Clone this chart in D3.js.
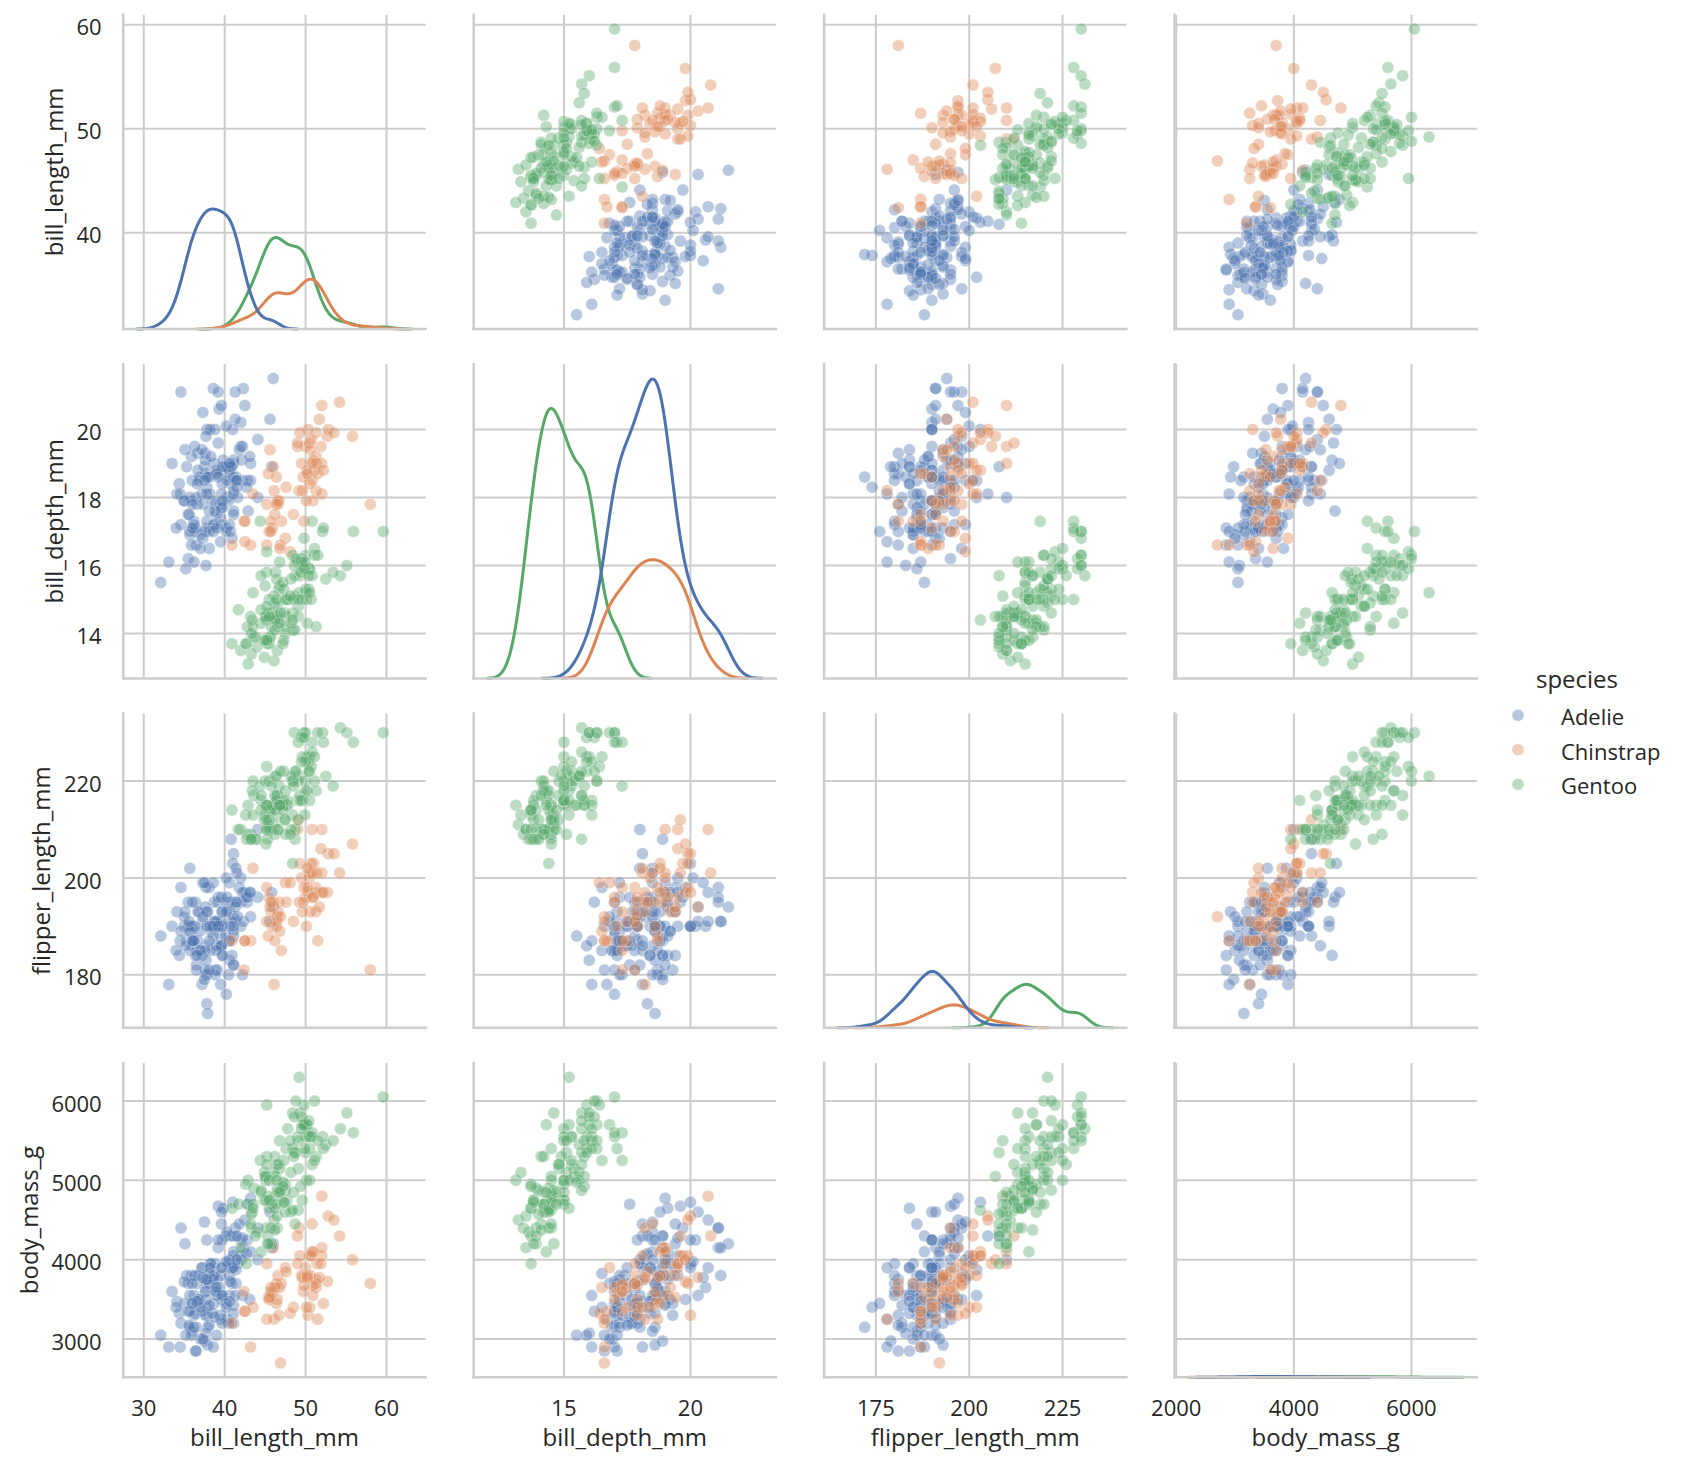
<!DOCTYPE html>
<html>
<head>
<meta charset="utf-8">
<script src="https://cdn.jsdelivr.net/npm/d3@7"></script>
<style>
  body { margin: 0; background: #fff; }
  svg text { font-family: "Open Sans", sans-serif; fill: #262626; }
</style>
</head>
<body>
<svg id="chart" width="1681" height="1466"></svg>
<script>
// penguins: bill_length_mm, bill_depth_mm, flipper_length_mm, body_mass_g
const species = ["Adelie", "Chinstrap", "Gentoo"];
const colors = ["#4c72b0", "#dd8452", "#55a868"];
const vars = ["bill_length_mm", "bill_depth_mm", "flipper_length_mm", "body_mass_g"];
const xTicks = [[30, 40, 50, 60], [15, 20], [175, 200, 225], [2000, 4000, 6000]];
const yTicks = [[40, 50, 60], [14, 16, 18, 20], [180, 200, 220], [3000, 4000, 5000, 6000]];

const adelie = [
  [39.1,18.7,181,3750],[39.5,17.4,186,3800],[40.3,18,195,3250],[36.7,19.3,193,3450],[39.3,20.6,190,3650],
  [38.9,17.8,181,3625],[39.2,19.6,195,4675],[34.1,18.1,193,3475],[42,20.2,190,4250],[37.8,17.1,186,3300],
  [37.8,17.3,180,3700],[41.1,17.6,182,3200],[38.6,21.2,191,3800],[34.6,21.1,198,4400],[36.6,17.8,185,3700],
  [38.7,19,195,3450],[42.5,20.7,197,4500],[34.4,18.4,184,3325],[46,21.5,194,4200],[37.8,18.3,174,3400],
  [37.7,18.7,180,3600],[35.9,19.2,189,3800],[38.2,18.1,185,3950],[38.8,17.2,180,3800],[35.3,18.9,187,3800],
  [40.6,18.6,183,3550],[40.5,17.9,187,3200],[37.9,18.6,172,3150],[40.5,18.9,180,3950],[39.5,16.7,178,3250],
  [37.2,18.1,178,3900],[39.5,17.8,188,3300],[40.9,18.9,184,3900],[36.4,17,195,3325],[39.2,21.1,196,4150],
  [38.8,20,190,3950],[42.2,18.5,180,3550],[37.6,19.3,181,3300],[39.8,19.1,184,4650],[36.5,18,182,3150],
  [40.8,18.4,195,3900],[36,18.5,186,3100],[44.1,19.7,196,4400],[37,16.9,185,3000],[39.6,18.8,190,4600],
  [41.1,19,182,3425],[37.5,18.9,179,2975],[36,17.9,190,3450],[42.3,21.2,191,4150],[39.6,17.7,186,3500],
  [40.1,18.9,188,4300],[35,17.9,190,3450],[42,19.5,200,4050],[34.5,18.1,187,2900],[41.4,18.6,191,3700],
  [39,17.5,186,3550],[40.6,18.8,193,3800],[36.5,16.6,181,2850],[37.6,19.1,194,3750],[35.7,16.9,185,3150],
  [41.3,21.1,195,4400],[37.6,17,185,3600],[41.1,18.2,192,4050],[36.4,17.1,184,2850],[41.6,18,192,3950],
  [35.5,16.2,195,3350],[41.1,19.1,188,4100],[35.9,16.6,190,3050],[41.8,19.4,198,4450],[33.5,19,190,3600],
  [39.7,18.4,190,3900],[39.6,17.2,196,3550],[45.8,18.9,197,4150],[35.5,17.5,190,3700],[42.8,18.5,195,4250],
  [40.9,16.8,191,3700],[37.2,19.4,184,3900],[36.2,16.1,187,3550],[42.1,19.1,195,4000],[34.6,17.2,189,3200],
  [42.9,17.6,196,4700],[36.7,18.8,187,3800],[35.1,19.4,193,4200],[37.3,17.8,191,3350],[41.3,20.3,194,3550],
  [36.3,19.5,190,3800],[36.9,18.6,189,3500],[38.3,19.2,189,3950],[38.9,18.8,190,3600],[35.7,18,202,3550],
  [41.1,18.1,205,4300],[34,17.1,185,3400],[39.6,18.1,186,4450],[36.2,17.3,187,3300],[40.8,18.9,208,4300],
  [38.1,18.6,190,3700],[40.3,18.5,196,4350],[33.1,16.1,178,2900],[43.2,18.5,192,4100],[35,17.9,192,3725],
  [41,20,203,4725],[37.7,16,183,3075],[37.8,20,190,4250],[37.9,18.6,193,2925],[39.7,18.9,184,3550],
  [38.6,17.2,199,3750],[38.2,20,190,3900],[38.1,17,181,3175],[43.2,19,197,4775],[38.1,16.5,198,3825],
  [45.6,20.3,191,4600],[39.7,17.7,193,3200],[42.2,19.5,197,4275],[39.6,20.7,191,3900],[42.7,18.3,196,4075],
  [38.6,17,188,2900],[37.3,20.5,199,3775],[35.7,17,189,3350],[41.1,18.6,189,3325],[36.2,17.2,187,3150],
  [37.7,19.8,198,3500],[40.2,17,176,3450],[41.4,18.5,202,3875],[35.2,15.9,186,3050],[40.6,19,199,4000],
  [38.8,17.6,191,3275],[41.5,18.3,195,4300],[39,17.1,191,3050],[44.1,18,210,4000],[38.5,17.9,190,3325],
  [43.1,19.2,197,3500],[36.8,18.5,193,3500],[37.5,18.5,199,4475],[38.1,17.6,187,3425],[41.1,17.5,190,3900],
  [35.6,17.5,191,3175],[40.2,20.1,200,3975],[37,16.5,185,3400],[39.7,17.9,193,4250],[40.2,17.1,193,3400],
  [40.6,17.2,187,3475],[32.1,15.5,188,3050],[40.7,17,190,3725],[37.3,16.8,192,3000],[39,18.7,185,3650],
  [39.2,18.6,190,4250],[36.6,18.4,184,3475],[36,17.8,195,3450],[37.8,18.1,193,3750],[36,17.1,187,3700],
  [41.5,18.5,201,4000]
];

const chinstrap = [
  [46.5,17.9,192,3500],[50,19.5,196,3900],[51.3,19.2,193,3650],[45.4,18.7,188,3525],[52.7,19.8,197,3725],
  [45.2,17.8,198,3950],[46.1,18.2,178,3250],[51.3,18.2,197,3750],[46,18.9,195,4150],[51.3,19.9,198,3700],
  [46.6,17.8,193,3800],[51.7,20.3,194,3775],[47,17.3,185,3700],[52,18.1,201,4050],[45.9,17.1,190,3575],
  [50.5,19.6,201,4050],[50.3,20,197,3300],[58,17.8,181,3700],[46.4,18.6,190,3450],[49.2,18.2,195,4400],
  [42.4,17.3,181,3600],[48.5,17.5,191,3400],[43.2,16.6,187,2900],[50.6,19.4,193,3800],[46.7,17.9,195,3300],
  [52,19,197,4150],[50.5,18.4,200,3400],[49.5,19,200,3800],[46.4,17.8,191,3700],[52.8,20,205,4550],
  [40.9,16.6,187,3200],[54.2,20.8,201,4300],[42.5,16.7,187,3350],[51,18.8,203,4100],[49.7,18.6,195,3600],
  [47.5,16.8,199,3900],[47.6,18.3,195,3850],[52,20.7,210,4800],[46.9,16.6,192,2700],[53.5,19.9,205,4500],
  [49,19.5,210,3950],[46.2,17.5,187,3650],[50.9,19.1,196,3550],[45.5,17,196,3500],[50.9,17.9,196,3675],
  [50.8,18.5,201,4450],[50.1,17.9,190,3400],[49,19.6,212,4300],[51.5,18.7,187,3250],[49.8,17.3,198,3675],
  [48.1,16.4,199,3325],[51.4,19,201,3950],[45.7,17.3,193,3600],[50.7,19.7,203,4050],[42.5,17.3,187,3350],
  [52.2,18.8,197,3450],[45.2,16.6,191,3250],[49.3,19.9,203,4050],[50.2,18.8,202,3800],[45.6,19.4,194,3525],
  [51.9,19.5,206,3950],[46.8,16.5,189,3650],[45.7,17,195,3650],[55.8,19.8,207,4000],[43.5,18.1,202,3400],
  [49.6,18.2,193,3775],[50.8,19,210,4100],[50.2,18.7,198,3775]
];

const gentoo = [
  [46.1,13.2,211,4500],[50,16.3,230,5700],[48.7,14.1,210,4450],[50,15.2,218,5700],[47.6,14.5,215,5400],
  [46.5,13.5,210,4550],[45.4,14.6,211,4800],[46.7,15.3,219,5200],[43.3,13.4,209,4400],[46.8,15.4,215,5150],
  [40.9,13.7,214,4650],[49,16.1,216,5550],[45.5,13.7,214,4650],[48.4,14.6,213,5850],[45.8,14.6,210,4200],
  [49.3,15.7,217,5850],[42,13.5,210,4150],[49.2,15.2,221,6300],[46.2,14.5,209,4800],[48.7,15.1,222,5350],
  [50.2,14.3,218,5700],[45.1,14.5,215,5000],[46.5,14.5,213,4400],[46.3,15.8,215,5050],[42.9,13.1,215,5000],
  [46.1,15.1,215,5100],[44.5,14.3,216,4100],[47.8,15,215,5650],[48.2,14.3,210,4600],[50,15.3,220,5550],
  [47.3,15.3,222,5250],[42.8,14.2,209,4700],[45.1,14.5,207,5050],[59.6,17,230,6050],[49.1,14.8,220,5150],
  [48.4,16.3,220,5400],[42.6,13.7,213,4950],[44.4,17.3,219,5250],[44,13.6,208,4350],[48.7,15.7,208,5350],
  [42.7,13.7,208,3950],[49.6,16,225,5700],[45.3,13.7,210,4300],[49.6,15,216,4750],[50.5,15.9,222,5550],
  [43.6,13.9,217,4900],[45.5,13.9,210,4200],[50.5,15.9,225,5400],[44.9,13.3,213,5100],[45.2,15.8,215,5300],
  [46.6,14.2,210,4850],[48.5,14.1,220,5300],[45.1,14.4,210,4400],[50.1,15,225,5000],[46.5,14.4,217,4900],
  [45,15.4,220,5050],[43.8,13.9,208,4300],[45.5,15,220,5000],[43.2,14.5,208,4450],[50.4,15.3,224,5550],
  [45.3,13.8,208,4200],[46.2,14.9,221,5300],[45.7,13.9,214,4400],[54.3,15.7,231,5650],[45.8,14.2,219,4700],
  [49.8,16.8,230,5700],[46.2,14.4,214,4650],[49.5,16.2,229,5800],[43.5,14.2,220,4700],[50.7,15,223,5550],
  [47.7,15,216,4750],[46.4,15.6,221,5000],[48.2,15.6,221,5100],[46.5,14.8,217,5200],[46.4,15,216,4700],
  [48.6,16,230,5800],[47.5,14.2,209,4600],[51.1,16.3,220,6000],[45.2,13.8,215,4750],[45.2,16.4,223,5950],
  [49.1,14.5,212,4625],[52.5,15.6,221,5450],[47.4,14.6,212,4725],[50,15.9,224,5350],[44.9,13.8,212,4750],
  [50.8,17.3,228,5600],[43.4,14.4,218,4600],[51.3,14.2,218,5300],[47.5,14,212,4875],[52.1,17,230,5550],
  [47.5,15,218,4950],[52.2,17.1,228,5400],[45.5,14.5,212,4750],[49.5,16.1,224,5650],[44.5,14.7,214,4850],
  [50.8,15.7,226,5200],[49.4,15.8,216,4925],[46.9,14.6,222,4875],[48.4,14.4,203,4625],[51.1,16.5,225,5250],
  [48.5,15,219,4850],[55.9,17,228,5600],[47.2,15.5,215,4975],[49.1,15,228,5500],[47.3,13.8,216,4725],
  [46.8,16.1,215,5500],[41.7,14.7,210,4700],[53.4,15.8,219,5500],[43.3,14,208,4575],[48.1,15.1,209,5500],
  [50.5,15.2,216,5000],[49.8,15.9,229,5950],[43.5,15.2,213,4650],[51.5,16.3,230,5500],[46.2,14.1,217,4375],
  [55.1,16,230,5850],[44.5,15.7,217,4875],[48.8,16.2,222,6000],[47.2,13.7,214,4925],[46.8,14.3,215,4850],
  [50.4,15.7,222,5750],[45.2,14.8,212,5200],[49.9,16.1,213,5400]
];

// layout (px)
const left0 = 123.3, colPitch = 350.4, W = 302.3;
const top0 = 14.7, rowPitch = 349.4, H = 314.3;
const gridColor = "#cccccc";

const groups = [adelie, chinstrap, gentoo];
const allRows = groups.flat();
const nTotal = allRows.length;

// gaussian KDE, scott bandwidth, cut = 3, 200 points, common_norm
function kde(values) {
  const n = values.length;
  const bw = d3.deviation(values) * Math.pow(n, -0.2);
  const lo = d3.min(values) - 3 * bw, hi = d3.max(values) + 3 * bw;
  const out = [];
  for (let k = 0; k < 200; k++) {
    const x = lo + (hi - lo) * k / 199;
    let s = 0;
    for (const v of values) { const z = (x - v) / bw; s += Math.exp(-0.5 * z * z); }
    out.push([x, s / (n * bw * Math.sqrt(2 * Math.PI)) * n / nTotal]);
  }
  return out;
}

const dens = vars.map((v, j) => groups.map(g => kde(g.map(r => r[j]))));
const maxDens = d3.max(dens.flat(2), d => d[1]);
const densY = d3.scaleLinear().domain([0, maxDens * 1.05]).range([H, 0]);

const xScales = vars.map((v, j) => {
  const ext = d3.extent(allRows.map(r => r[j]).concat(dens[j].flat().map(d => d[0])));
  const pad = (ext[1] - ext[0]) * 0.05;
  return d3.scaleLinear().domain([ext[0] - pad, ext[1] + pad]).range([0, W]);
});
const yScales = vars.map((v, i) => {
  const ext = d3.extent(allRows, r => r[i]);
  const pad = (ext[1] - ext[0]) * 0.05;
  return d3.scaleLinear().domain([ext[0] - pad, ext[1] + pad]).range([H, 0]);
});

const svg = d3.select("#chart");

vars.forEach((vy, i) => {
  vars.forEach((vx, j) => {
    const g = svg.append("g")
      .attr("transform", `translate(${left0 + j * colPitch},${top0 + i * rowPitch})`);
    const x = xScales[j], y = yScales[i];

    // grid
    g.selectAll(".vg").data(xTicks[j]).join("line")
      .attr("x1", d => x(d)).attr("x2", d => x(d)).attr("y1", 0).attr("y2", H)
      .attr("stroke", gridColor).attr("stroke-width", 2);
    g.selectAll(".hg").data(yTicks[i]).join("line")
      .attr("x1", 0).attr("x2", W).attr("y1", d => y(d)).attr("y2", d => y(d))
      .attr("stroke", gridColor).attr("stroke-width", 2);

    if (i === j) {
      const line = d3.line().x(d => x(d[0])).y(d => densY(d[1]));
      // later hues drawn first so Adelie sits on top
      [2, 1, 0].forEach(s => {
        g.append("path").datum(dens[j][s])
          .attr("d", line).attr("fill", "none")
          .attr("stroke", colors[s]).attr("stroke-width", 3)
          .attr("stroke-linejoin", "round").attr("stroke-linecap", "round");
      });
    } else {
      groups.forEach((rows, s) => {
        g.append("g").selectAll("circle").data(rows).join("circle")
          .attr("cx", d => x(d[j])).attr("cy", d => y(d[i])).attr("r", 6)
          .attr("fill", colors[s]).attr("fill-opacity", 0.4)
          .attr("stroke", "#fff").attr("stroke-opacity", 0.35).attr("stroke-width", 0.9);
      });
    }

    // spines
    g.append("line").attr("x1", 0).attr("x2", 0).attr("y1", -1.2).attr("y2", H + 1.2)
      .attr("stroke", gridColor).attr("stroke-width", 2.5);
    g.append("line").attr("x1", -1.2).attr("x2", W + 1.2).attr("y1", H).attr("y2", H)
      .attr("stroke", gridColor).attr("stroke-width", 2.5);

    if (j === 0) {
      const tl = g.append("g");
      tl.selectAll("text").data(yTicks[i]).join("text")
        .attr("x", -21.6).attr("y", d => y(d) + 10.6)
        .attr("text-anchor", "end").style("font-size", "22px")
        .text(d => d);
      const minX = d3.min(tl.selectAll("text").nodes(), n => n.getBBox().x);
      g.append("text")
        .attr("transform", `translate(${minX - 8 - 5.5},${H / 2}) rotate(-90)`)
        .attr("text-anchor", "middle").style("font-size", "24px")
        .text(vy);
    }
    if (i === 3) {
      g.append("g").selectAll("text").data(xTicks[j]).join("text")
        .attr("x", d => x(d)).attr("y", H + 38.7)
        .attr("text-anchor", "middle").style("font-size", "22px")
        .text(d => d);
      g.append("text")
        .attr("x", W / 2).attr("y", H + 69)
        .attr("text-anchor", "middle").style("font-size", "24px")
        .text(vx);
    }
  });
});

// legend
const leg = svg.append("g");
leg.append("text").attr("x", 1577).attr("y", 688)
  .attr("text-anchor", "middle").style("font-size", "24px").text("species");
species.forEach((s, k) => {
  leg.append("circle").attr("cx", 1518).attr("cy", 715.3 + k * 34.5).attr("r", 6)
    .attr("fill", colors[k]).attr("fill-opacity", 0.4)
    .attr("stroke", "#fff").attr("stroke-opacity", 0.35).attr("stroke-width", 0.9);
  leg.append("text").attr("x", 1561).attr("y", 725 + k * 34.5)
    .style("font-size", "22px").text(s);
});
</script>
</body>
</html>
